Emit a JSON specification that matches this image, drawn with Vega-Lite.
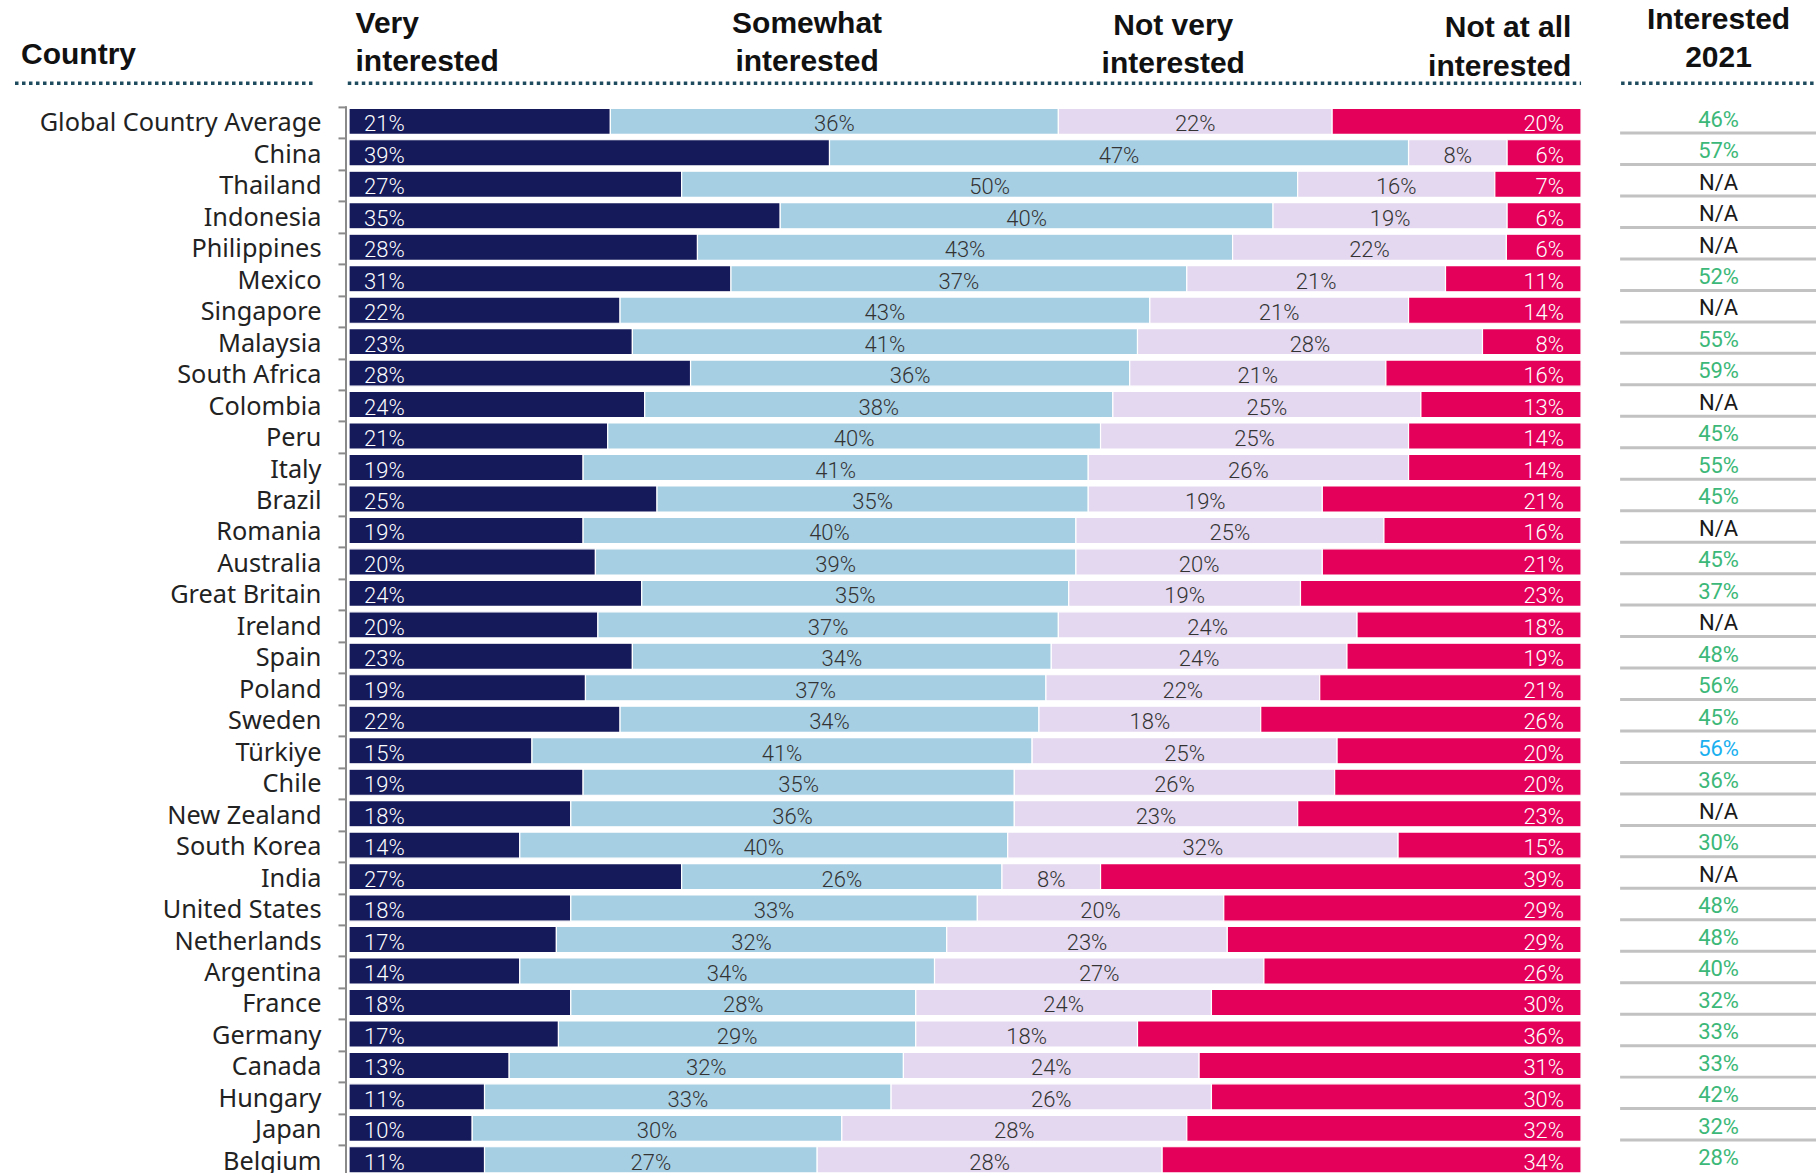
{
  "$schema": "https://vega.github.io/schema/vega-lite/v6.json",
  "autosize": "none",
  "width": 1470,
  "height": 1159,
  "padding": {"left": 346, "top": 13.9, "right": 0, "bottom": 0},
  "background": "white",
  "config": {"view": {"stroke": null}},
  "resolve": {"axis": {"y": "independent", "x": "independent"}},
  "datasets": {
    "survey": [
      {"country": "Global Country Average", "Very interested": 0.21, "Somewhat interested": 0.36, "Not very interested": 0.22, "Not at all interested": 0.20},
      {"country": "China", "Very interested": 0.39, "Somewhat interested": 0.47, "Not very interested": 0.08, "Not at all interested": 0.06},
      {"country": "Thailand", "Very interested": 0.27, "Somewhat interested": 0.50, "Not very interested": 0.16, "Not at all interested": 0.07},
      {"country": "Indonesia", "Very interested": 0.35, "Somewhat interested": 0.40, "Not very interested": 0.19, "Not at all interested": 0.06},
      {"country": "Philippines", "Very interested": 0.28, "Somewhat interested": 0.43, "Not very interested": 0.22, "Not at all interested": 0.06},
      {"country": "Mexico", "Very interested": 0.31, "Somewhat interested": 0.37, "Not very interested": 0.21, "Not at all interested": 0.11},
      {"country": "Singapore", "Very interested": 0.22, "Somewhat interested": 0.43, "Not very interested": 0.21, "Not at all interested": 0.14},
      {"country": "Malaysia", "Very interested": 0.23, "Somewhat interested": 0.41, "Not very interested": 0.28, "Not at all interested": 0.08},
      {"country": "South Africa", "Very interested": 0.28, "Somewhat interested": 0.36, "Not very interested": 0.21, "Not at all interested": 0.16},
      {"country": "Colombia", "Very interested": 0.24, "Somewhat interested": 0.38, "Not very interested": 0.25, "Not at all interested": 0.13},
      {"country": "Peru", "Very interested": 0.21, "Somewhat interested": 0.40, "Not very interested": 0.25, "Not at all interested": 0.14},
      {"country": "Italy", "Very interested": 0.19, "Somewhat interested": 0.41, "Not very interested": 0.26, "Not at all interested": 0.14},
      {"country": "Brazil", "Very interested": 0.25, "Somewhat interested": 0.35, "Not very interested": 0.19, "Not at all interested": 0.21},
      {"country": "Romania", "Very interested": 0.19, "Somewhat interested": 0.40, "Not very interested": 0.25, "Not at all interested": 0.16},
      {"country": "Australia", "Very interested": 0.20, "Somewhat interested": 0.39, "Not very interested": 0.20, "Not at all interested": 0.21},
      {"country": "Great Britain", "Very interested": 0.24, "Somewhat interested": 0.35, "Not very interested": 0.19, "Not at all interested": 0.23},
      {"country": "Ireland", "Very interested": 0.20, "Somewhat interested": 0.37, "Not very interested": 0.24, "Not at all interested": 0.18},
      {"country": "Spain", "Very interested": 0.23, "Somewhat interested": 0.34, "Not very interested": 0.24, "Not at all interested": 0.19},
      {"country": "Poland", "Very interested": 0.19, "Somewhat interested": 0.37, "Not very interested": 0.22, "Not at all interested": 0.21},
      {"country": "Sweden", "Very interested": 0.22, "Somewhat interested": 0.34, "Not very interested": 0.18, "Not at all interested": 0.26},
      {"country": "Türkiye", "Very interested": 0.15, "Somewhat interested": 0.41, "Not very interested": 0.25, "Not at all interested": 0.20},
      {"country": "Chile", "Very interested": 0.19, "Somewhat interested": 0.35, "Not very interested": 0.26, "Not at all interested": 0.20},
      {"country": "New Zealand", "Very interested": 0.18, "Somewhat interested": 0.36, "Not very interested": 0.23, "Not at all interested": 0.23},
      {"country": "South Korea", "Very interested": 0.14, "Somewhat interested": 0.40, "Not very interested": 0.32, "Not at all interested": 0.15},
      {"country": "India", "Very interested": 0.27, "Somewhat interested": 0.26, "Not very interested": 0.08, "Not at all interested": 0.39},
      {"country": "United States", "Very interested": 0.18, "Somewhat interested": 0.33, "Not very interested": 0.20, "Not at all interested": 0.29},
      {"country": "Netherlands", "Very interested": 0.17, "Somewhat interested": 0.32, "Not very interested": 0.23, "Not at all interested": 0.29},
      {"country": "Argentina", "Very interested": 0.14, "Somewhat interested": 0.34, "Not very interested": 0.27, "Not at all interested": 0.26},
      {"country": "France", "Very interested": 0.18, "Somewhat interested": 0.28, "Not very interested": 0.24, "Not at all interested": 0.30},
      {"country": "Germany", "Very interested": 0.17, "Somewhat interested": 0.29, "Not very interested": 0.18, "Not at all interested": 0.36},
      {"country": "Canada", "Very interested": 0.13, "Somewhat interested": 0.32, "Not very interested": 0.24, "Not at all interested": 0.31},
      {"country": "Hungary", "Very interested": 0.11, "Somewhat interested": 0.33, "Not very interested": 0.26, "Not at all interested": 0.30},
      {"country": "Japan", "Very interested": 0.10, "Somewhat interested": 0.30, "Not very interested": 0.28, "Not at all interested": 0.32},
      {"country": "Belgium", "Very interested": 0.11, "Somewhat interested": 0.27, "Not very interested": 0.28, "Not at all interested": 0.34}
    ],
    "prev": [
      {"country": "Global Country Average", "interested2021": 0.46},
      {"country": "China", "interested2021": 0.57},
      {"country": "Thailand", "interested2021": null},
      {"country": "Indonesia", "interested2021": null},
      {"country": "Philippines", "interested2021": null},
      {"country": "Mexico", "interested2021": 0.52},
      {"country": "Singapore", "interested2021": null},
      {"country": "Malaysia", "interested2021": 0.55},
      {"country": "South Africa", "interested2021": 0.59},
      {"country": "Colombia", "interested2021": null},
      {"country": "Peru", "interested2021": 0.45},
      {"country": "Italy", "interested2021": 0.55},
      {"country": "Brazil", "interested2021": 0.45},
      {"country": "Romania", "interested2021": null},
      {"country": "Australia", "interested2021": 0.45},
      {"country": "Great Britain", "interested2021": 0.37},
      {"country": "Ireland", "interested2021": null},
      {"country": "Spain", "interested2021": 0.48},
      {"country": "Poland", "interested2021": 0.56},
      {"country": "Sweden", "interested2021": 0.45},
      {"country": "Türkiye", "interested2021": 0.56},
      {"country": "Chile", "interested2021": 0.36},
      {"country": "New Zealand", "interested2021": null},
      {"country": "South Korea", "interested2021": 0.30},
      {"country": "India", "interested2021": null},
      {"country": "United States", "interested2021": 0.48},
      {"country": "Netherlands", "interested2021": 0.48},
      {"country": "Argentina", "interested2021": 0.40},
      {"country": "France", "interested2021": 0.32},
      {"country": "Germany", "interested2021": 0.33},
      {"country": "Canada", "interested2021": 0.33},
      {"country": "Hungary", "interested2021": 0.42},
      {"country": "Japan", "interested2021": 0.32},
      {"country": "Belgium", "interested2021": 0.28}
    ]
  },
  "layer": [
    {
      "data": {"name": "survey"},
      "transform": [{"fold": ["Very interested", "Somewhat interested", "Not very interested", "Not at all interested"], "as": ["category", "value"]}],
      "mark": {"type": "bar", "stroke": "#ffffff", "strokeWidth": 1.2},
      "encoding": {
        "y": {
          "field": "country", "type": "nominal",
          "scale": {"domain": ["h1", "h2", "h3", "Global Country Average", "China", "Thailand", "Indonesia", "Philippines", "Mexico", "Singapore", "Malaysia", "South Africa", "Colombia", "Peru", "Italy", "Brazil", "Romania", "Australia", "Great Britain", "Ireland", "Spain", "Poland", "Sweden", "Türkiye", "Chile", "New Zealand", "South Korea", "India", "United States", "Netherlands", "Argentina", "France", "Germany", "Canada", "Hungary", "Japan", "Belgium"], "paddingInner": 0.17, "paddingOuter": 0},
          "axis": {
            "values": ["Global Country Average", "China", "Thailand", "Indonesia", "Philippines", "Mexico", "Singapore", "Malaysia", "South Africa", "Colombia", "Peru", "Italy", "Brazil", "Romania", "Australia", "Great Britain", "Ireland", "Spain", "Poland", "Sweden", "Türkiye", "Chile", "New Zealand", "South Korea", "India", "United States", "Netherlands", "Argentina", "France", "Germany", "Canada", "Hungary", "Japan", "Belgium"],
            "title": null, "domain": false, "bandPosition": 0, "tickOffset": -1.6, "labelOffset": 3.1,
            "tickSize": 8, "tickColor": "#8a8a8a", "tickWidth": 2, "labelPadding": 17,
            "labelFont": "Noto Sans", "labelFontSize": 25.3, "labelColor": "#222222", "labelLimit": 400
          }
        },
        "x": {"field": "value", "type": "quantitative", "stack": "normalize", "scale": {"domain": [-0.00244, 1.1907], "nice": false, "zero": false}, "axis": null},
        "color": {"field": "category", "type": "nominal", "scale": {"domain": ["Very interested", "Somewhat interested", "Not very interested", "Not at all interested"], "range": ["#141a5a", "#a7cfe3", "#e3d8ef", "#e4005a"]}, "legend": null},
        "order": {"field": "category", "sort": "descending"}
      }
    },
    {
      "data": {"name": "survey"},
      "transform": [{"fold": ["Very interested", "Somewhat interested", "Not very interested", "Not at all interested"], "as": ["category", "value"]}],
      "mark": {"type": "text", "align": "left", "baseline": "alphabetic", "dx": 15, "dy": 10, "font": "Roboto", "fontWeight": 300, "fontSize": 22, "color": "#ffffff"},
      "encoding": {
        "y": {"field": "country", "type": "nominal", "axis": null},
        "x": {"field": "value", "type": "quantitative", "stack": "normalize", "bandPosition": 0, "scale": {"domain": [-0.00244, 1.1907], "nice": false, "zero": false}, "axis": null},
        "detail": {"field": "category"},
        "order": {"field": "category", "sort": "descending"},
        "text": {"condition": {"test": "datum.category === 'Very interested'", "field": "value", "type": "quantitative", "format": ".0%"}, "value": ""}
      }
    },
    {
      "data": {"name": "survey"},
      "transform": [{"fold": ["Very interested", "Somewhat interested", "Not very interested", "Not at all interested"], "as": ["category", "value"]}],
      "mark": {"type": "text", "align": "center", "baseline": "alphabetic", "dy": 10, "font": "Roboto", "fontWeight": 300, "fontSize": 22, "color": "#333333"},
      "encoding": {
        "y": {"field": "country", "type": "nominal", "axis": null},
        "x": {"field": "value", "type": "quantitative", "stack": "normalize", "bandPosition": 0.5, "scale": {"domain": [-0.00244, 1.1907], "nice": false, "zero": false}, "axis": null},
        "detail": {"field": "category"},
        "order": {"field": "category", "sort": "descending"},
        "text": {"condition": {"test": "datum.category === 'Somewhat interested' || datum.category === 'Not very interested'", "field": "value", "type": "quantitative", "format": ".0%"}, "value": ""}
      }
    },
    {
      "data": {"name": "survey"},
      "transform": [{"fold": ["Very interested", "Somewhat interested", "Not very interested", "Not at all interested"], "as": ["category", "value"]}],
      "mark": {"type": "text", "align": "right", "baseline": "alphabetic", "dx": -17, "dy": 10, "font": "Roboto", "fontWeight": 300, "fontSize": 22, "color": "#ffffff"},
      "encoding": {
        "y": {"field": "country", "type": "nominal", "axis": null},
        "x": {"field": "value", "type": "quantitative", "stack": "normalize", "bandPosition": 1, "scale": {"domain": [-0.00244, 1.1907], "nice": false, "zero": false}, "axis": null},
        "detail": {"field": "category"},
        "order": {"field": "category", "sort": "descending"},
        "text": {"condition": {"test": "datum.category === 'Not at all interested'", "field": "value", "type": "quantitative", "format": ".0%"}, "value": ""}
      }
    },
    {
      "data": {"values": [{}]},
      "mark": {"type": "rule", "color": "#8a8a8a", "strokeWidth": 2, "yOffset": -15, "y2Offset": 14},
      "encoding": {
        "x": {"datum": -0.00244, "type": "quantitative", "scale": {"domain": [-0.00244, 1.1907], "nice": false, "zero": false}, "axis": null},
        "y": {"datum": "Global Country Average", "type": "nominal", "axis": null},
        "y2": {"datum": "Belgium"}
      }
    },
    {
      "data": {"values": [{}]},
      "mark": {"type": "rule", "color": "#1f4b5e", "strokeWidth": 3.5, "strokeDash": [3.5, 3.5], "yOffset": -6.6},
      "encoding": {
        "x": {"datum": -0.2711, "type": "quantitative", "axis": null},
        "x2": {"datum": -0.0292},
        "y": {"datum": "h3", "type": "nominal", "axis": null}
      }
    },
    {
      "data": {"values": [{}]},
      "mark": {"type": "rule", "color": "#1f4b5e", "strokeWidth": 3.5, "strokeDash": [3.5, 3.5], "yOffset": -6.6},
      "encoding": {
        "x": {"datum": -0.001, "type": "quantitative", "axis": null},
        "x2": {"datum": 1.0},
        "y": {"datum": "h3", "type": "nominal", "axis": null}
      }
    },
    {
      "data": {"values": [{}]},
      "mark": {"type": "rule", "color": "#1f4b5e", "strokeWidth": 3.5, "strokeDash": [3.5, 3.5], "yOffset": -6.6},
      "encoding": {
        "x": {"datum": 1.0325, "type": "quantitative", "axis": null},
        "x2": {"datum": 1.1907},
        "y": {"datum": "h3", "type": "nominal", "axis": null}
      }
    },
    {
      "data": {"values": [{}]},
      "mark": {"type": "text", "text": "Country", "align": "left", "baseline": "alphabetic", "dy": 5.3, "font": "Liberation Sans", "fontWeight": "bold", "fontSize": 30, "color": "#111111"},
      "encoding": {
        "x": {"datum": -0.2662, "type": "quantitative", "axis": null},
        "y": {"datum": "h2", "type": "nominal", "axis": null}
      }
    },
    {
      "data": {"values": [{}]},
      "mark": {"type": "text", "text": ["Very", "interested"], "lineHeight": 38, "align": "left", "baseline": "alphabetic", "dy": 6, "font": "Liberation Sans", "fontWeight": "bold", "fontSize": 30, "color": "#111111"},
      "encoding": {
        "x": {"datum": 0.0053, "type": "quantitative", "axis": null},
        "y": {"datum": "h1", "type": "nominal", "axis": null}
      }
    },
    {
      "data": {"values": [{}]},
      "mark": {"type": "text", "text": ["Somewhat", "interested"], "lineHeight": 38, "align": "center", "baseline": "alphabetic", "dy": 6, "font": "Liberation Sans", "fontWeight": "bold", "fontSize": 30, "color": "#111111"},
      "encoding": {
        "x": {"datum": 0.3718, "type": "quantitative", "axis": null},
        "y": {"datum": "h1", "type": "nominal", "axis": null}
      }
    },
    {
      "data": {"values": [{}]},
      "mark": {"type": "text", "text": ["Not very", "interested"], "lineHeight": 38.5, "align": "center", "baseline": "alphabetic", "dy": 8, "font": "Liberation Sans", "fontWeight": "bold", "fontSize": 30, "color": "#111111"},
      "encoding": {
        "x": {"datum": 0.669, "type": "quantitative", "axis": null},
        "y": {"datum": "h1", "type": "nominal", "axis": null}
      }
    },
    {
      "data": {"values": [{}]},
      "mark": {"type": "text", "text": ["Not at all", "interested"], "lineHeight": 39, "align": "right", "baseline": "alphabetic", "dy": 10, "font": "Liberation Sans", "fontWeight": "bold", "fontSize": 30, "color": "#111111"},
      "encoding": {
        "x": {"datum": 0.9922, "type": "quantitative", "axis": null},
        "y": {"datum": "h1", "type": "nominal", "axis": null}
      }
    },
    {
      "data": {"values": [{}]},
      "mark": {"type": "text", "text": ["Interested", "2021"], "lineHeight": 38.5, "align": "center", "baseline": "alphabetic", "dy": 2, "font": "Liberation Sans", "fontWeight": "bold", "fontSize": 30, "color": "#111111"},
      "encoding": {
        "x": {"datum": 1.1116, "type": "quantitative", "axis": null},
        "y": {"datum": "h1", "type": "nominal", "axis": null}
      }
    },
    {
      "data": {"name": "prev"},
      "transform": [{"filter": "datum.country !== 'Belgium'"}],
      "mark": {"type": "rule", "color": "#c2c2c2", "strokeWidth": 3, "yOffset": 11.7},
      "encoding": {
        "y": {"field": "country", "type": "nominal", "axis": null},
        "x": {"datum": 1.0317, "type": "quantitative", "axis": null},
        "x2": {"datum": 1.1907}
      }
    },
    {
      "data": {"name": "prev"},
      "mark": {"type": "text", "align": "center", "baseline": "alphabetic", "dy": 5.3, "font": "Roboto", "fontSize": 22},
      "encoding": {
        "y": {"field": "country", "type": "nominal", "axis": null},
        "x": {"datum": 1.1116, "type": "quantitative", "axis": null},
        "text": {"condition": {"test": "datum.interested2021 === null", "value": "N/A"}, "field": "interested2021", "type": "quantitative", "format": ".0%"},
        "color": {"condition": [{"test": "datum.interested2021 === null", "value": "#1a1a1a"}, {"test": "datum.country === 'Türkiye'", "value": "#1ab0ef"}], "value": "#3cb878"}
      }
    }
  ]
}
